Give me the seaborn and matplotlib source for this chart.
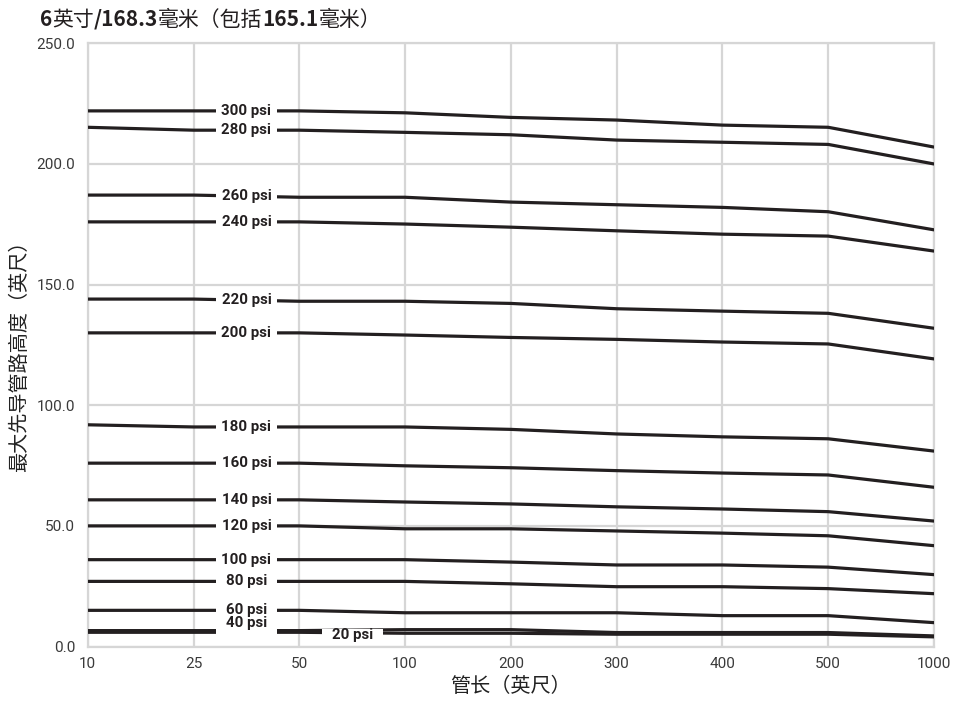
import matplotlib
matplotlib.use("Agg")
import matplotlib.pyplot as plt
import numpy as np
import pandas as pd
import seaborn as sns
from matplotlib.patches import Rectangle

# ---- data ----
lengths = ["10", "25", "50", "100", "200", "300", "400", "500", "1000"]
series_names = ["300 psi", "280 psi", "260 psi", "240 psi", "220 psi", "200 psi",
                "180 psi", "160 psi", "140 psi", "120 psi", "100 psi", "80 psi",
                "60 psi", "40 psi", "20 psi"]
psi300 = [222.0, 222.0, 222.0, 221.2, 219.3, 218.2, 216.1, 215.2, 207.0]
psi280 = [215.2, 214.0, 214.0, 213.1, 212.1, 209.9, 209.0, 208.1, 200.0]
psi260 = [187.1, 187.1, 186.2, 186.2, 184.2, 183.1, 182.0, 180.2, 172.7]
psi240 = [176.0, 176.0, 176.0, 175.1, 173.8, 172.3, 170.9, 170.1, 163.9]
psi220 = [144.0, 144.0, 143.1, 143.1, 142.2, 140.0, 139.0, 138.1, 131.9]
psi200 = [130.0, 130.0, 130.0, 129.1, 128.1, 127.3, 126.2, 125.4, 119.2]
psi180 = [91.9, 91.0, 91.0, 91.0, 90.0, 88.1, 86.9, 86.1, 81.0]
psi160 = [76.0, 76.0, 76.0, 74.9, 74.1, 72.9, 71.9, 71.1, 66.0]
psi140 = [60.8, 60.8, 60.8, 59.9, 59.1, 57.9, 57.0, 55.9, 52.0]
psi120 = [50.0, 50.0, 50.0, 48.8, 48.8, 47.9, 47.0, 45.9, 41.8]
psi100 = [36.0, 36.0, 36.0, 36.0, 35.0, 33.8, 33.8, 32.9, 29.8]
psi80 = [27.0, 27.0, 27.0, 27.0, 26.0, 24.8, 24.8, 24.0, 21.9]
psi60 = [15.0, 15.0, 15.0, 14.0, 14.0, 14.0, 12.8, 12.8, 9.9]
psi40 = [6.6, 6.6, 6.6, 7.0, 7.0, 5.8, 5.8, 5.8, 4.4]
psi20 = [5.9, 5.9, 5.9, 5.5, 5.5, 5.1, 5.1, 5.1, 4.0]
all_values = [psi300, psi280, psi260, psi240, psi220, psi200, psi180, psi160,
              psi140, psi120, psi100, psi80, psi60, psi40, psi20]

title_parts = [("6", "bold"), ("英寸", "normal"), ("/168.3", "bold"),
               ("毫米（包括", "normal"), ("165.1", "bold"), ("毫米）", "normal")]
x_label = "管长（英尺）"
y_label = "最大先导管路高度（英尺）"
y_ticks = [0, 50, 100, 150, 200, 250]

rows = []
for name, vals in zip(series_names, all_values):
    for L, v in zip(lengths, vals):
        rows.append({"length": L, "height": v, "series": name})
df = pd.DataFrame(rows)

# ---- style ----
sns.set_theme(style="white")
plt.rcParams["font.family"] = ["Noto Sans CJK SC", "DejaVu Sans"]

line_color = "#231f20"
grid_color = "#d6d6d6"
tick_font = ["Roboto", "DejaVu Sans"]
label_font = ["Roboto", "DejaVu Sans"]

fig = plt.figure(figsize=(9.66, 7.01), dpi=100)
ax = fig.add_axes([0.0908, 0.0777, 0.8761, 0.8605])

sns.lineplot(data=df, x="length", y="height", hue="series", units="series",
             estimator=None, palette=[line_color] * len(series_names),
             linewidth=2.3, legend=False, ax=ax, zorder=3, sort=False)

ax.set_xlim(0, len(lengths) - 1)
ax.set_ylim(0, 250)
ax.set_xticks(range(len(lengths)))
ax.set_xticklabels(lengths, family=tick_font, fontsize=11, color="#3a3a3a")
ax.set_yticks(y_ticks)
ax.set_yticklabels([f"{t:.1f}" for t in y_ticks], family=tick_font,
                   fontsize=11, color="#3a3a3a")
ax.tick_params(axis="both", length=0)
ax.tick_params(axis="x", pad=7.5)
ax.tick_params(axis="y", pad=9)

ax.grid(True, color=grid_color, linewidth=1.6, zorder=0)
ax.set_axisbelow(True)
for sp in ax.spines.values():
    sp.set_color(grid_color)
    sp.set_linewidth(1.6)

ax.set_xlabel(x_label, fontsize=14.5, color="#222222")
ax.set_ylabel(y_label, fontsize=14.5, color="#222222")
ax.xaxis.set_label_coords(0.5, -0.049)
ax.yaxis.set_label_coords(-0.068, 0.49)

# ---- inline labels ----
label_x = {name: 1.5 for name in series_names}
label_x["20 psi"] = 2.5
label_dy = {name: 0.0 for name in series_names}
label_dy["40 psi"] = 3.2
label_dy["20 psi"] = -1.0
box_w = 0.577
box_h = 3.4
for name, vals in zip(series_names, all_values):
    lx = label_x[name]
    i = int(np.floor(lx))
    ly = vals[i] + (vals[i + 1] - vals[i]) * (lx - i)
    ax.add_patch(Rectangle((lx - box_w / 2, ly - box_h / 2), box_w, box_h,
                           facecolor="white", edgecolor="none", zorder=4))
    ax.text(lx, ly + label_dy[name], name, ha="center", va="center",
            family=label_font, fontweight="bold", fontsize=10.8,
            color=line_color, zorder=5)

# ---- title with mixed weights ----
fig.canvas.draw()
renderer = fig.canvas.get_renderer()
x_px = 40.0
y_frac = 1 - 25.5 / 701
for txt, w in title_parts:
    t = fig.text(x_px / 966, y_frac, txt, fontsize=15, fontweight=w,
                 color="#231f20", ha="left", va="baseline")
    bb = t.get_window_extent(renderer=renderer)
    x_px = bb.x1

fig.savefig("out.png", dpi=100)
